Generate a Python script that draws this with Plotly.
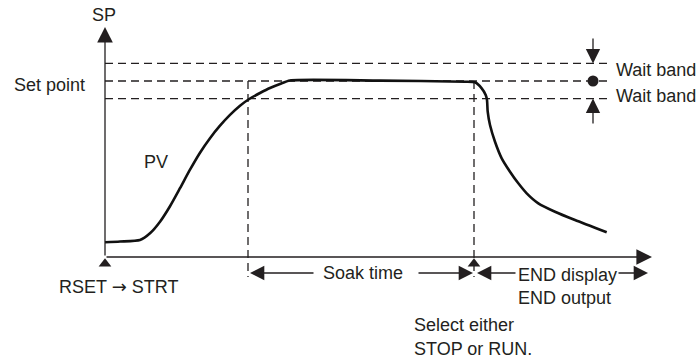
import plotly.graph_objects as go

# ---- data (conceptual units: time t, process value v) ----
pv_time = [0, 1.5, 3.5, 4.5, 5.5, 6.5, 7.5, 8.5, 9.5, 10.5, 11.5, 12.5, 13.5, 14.5, 15.5, 16.5, 17.5, 18.5,
           27.5, 36.0, 37.0, 37.67, 38.07, 38.2, 38.27, 38.5, 39.0, 39.67, 40.5, 41.33, 42.17, 43.33,
           45.0, 47.0, 50.17]
pv_value = [8.35, 8.8, 9.66, 13.47, 20.06, 28.86, 39.09, 49.6, 59.26, 67.5, 74.6, 80.74, 85.97, 90.06,
            93.18, 96.02, 98.3, 100.28,
            100.2, 99.6, 99.26, 95.85, 92.05, 89.2, 82.56, 75.0, 65.5, 56.08, 48.47, 41.88, 36.19, 30.51,
            25.74, 21.02, 14.03]
set_point = 100
wait_band = 10
soak_start = 14.3
soak_end = 36.9
time_axis_end = 54.7
value_axis_end = 130.7
band_line_end = 50.5
wait_marker_t = 48.8

INK = "#231f20"
FONT = dict(family="Liberation Sans, Arial, Helvetica, sans-serif", size=18, color=INK)

fig = go.Figure()

# PV curve
fig.add_trace(go.Scatter(x=pv_time, y=pv_value, mode="lines",
                         line=dict(color="#111111", width=2.6, shape="spline", smoothing=0.6),
                         hoverinfo="skip"))

# event triangles below time axis
fig.add_trace(go.Scatter(x=[0, soak_end], y=[-3.9, -3.9], mode="markers",
                         marker=dict(symbol="triangle-up", size=11, color=INK),
                         hoverinfo="skip"))
# set point dot
fig.add_trace(go.Scatter(x=[wait_marker_t], y=[set_point], mode="markers",
                         marker=dict(symbol="circle", size=11, color=INK),
                         hoverinfo="skip"))

shapes = []
dash = "8px,5px"
for lvl in [set_point + wait_band, set_point, set_point - wait_band]:
    shapes.append(dict(type="line", xref="x", yref="y", x0=0, x1=band_line_end, y0=lvl, y1=lvl,
                       line=dict(color=INK, width=1.3, dash=dash), layer="below"))
for tx in [soak_start, soak_end]:
    shapes.append(dict(type="line", xref="x", yref="y", x0=tx, x1=tx, y0=set_point, y1=-11.4,
                       line=dict(color=INK, width=1.3, dash=dash), layer="below"))

ann = []


def arrow(tail, tip, w=1.3, size=2.4):
    ann.append(dict(x=tip[0], y=tip[1], ax=tail[0], ay=tail[1], xref="x", yref="y",
                    axref="x", ayref="y", text="", showarrow=True, arrowhead=2,
                    arrowsize=size, arrowwidth=w, arrowcolor=INK, standoff=0, startstandoff=0))


def label(t, v, s, anchor="left"):
    ann.append(dict(x=t, y=v, xref="x", yref="y", text=s, showarrow=False,
                    xanchor=anchor, yanchor="middle", font=FONT))


# axes
arrow((0, 0), (0, value_axis_end))
arrow((0, 0), (time_axis_end, 0))
# soak time arrows
arrow((21.0, -9.1), (14.5, -9.1), size=2.2)
arrow((31.2, -9.1), (36.8, -9.1), size=2.2)
# END arrows
arrow((41.2, -9.1), (37.2, -9.1), size=2.2)
arrow((51.2, -9.1), (54.3, -9.1), size=2.2)
# wait band arrows
arrow((wait_marker_t, 125), (wait_marker_t, set_point + wait_band), size=2.2)
arrow((wait_marker_t, 75), (wait_marker_t, set_point - wait_band), size=2.2)

label(-0.1, 137.5, "SP", anchor="center")
label(-9.3, 97.7, "Set point")
label(3.7, 54.0, "PV")
label(50.9, 106.3, "Wait band")
label(50.9, 91.5, "Wait band")
label(-4.8, -17.0, "RSET <span style=\"font-family:DejaVu Sans\">\u2192</span> STRT")
label(21.6, -9.1, "Soak time")
label(41.1, -10.2, "END display")
label(41.1, -23.3, "END output")
label(30.7, -38.6, "Select either")
label(30.7, -52.3, "STOP or RUN.")

fig.update_layout(
    width=699, height=360, autosize=False,
    margin=dict(l=0, r=0, t=0, b=0),
    paper_bgcolor="white", plot_bgcolor="white",
    showlegend=False,
    xaxis=dict(range=[-10.5, 59.4], visible=False, fixedrange=True),
    yaxis=dict(range=[-58.52, 146.02], visible=False, fixedrange=True),
    shapes=shapes, annotations=ann,
)

fig.write_html("out.html", config={"displayModeBar": False},
               post_script="document.body.style.margin='0';document.body.style.overflow='hidden';")
